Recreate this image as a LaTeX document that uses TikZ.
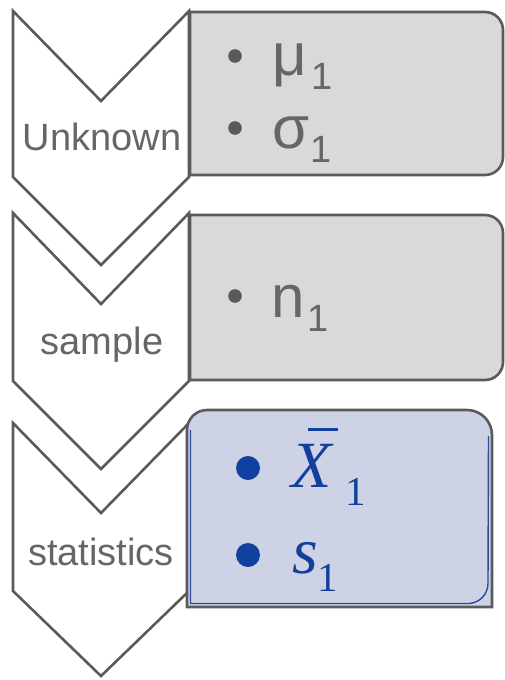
\documentclass[tikz,border=0pt]{standalone}
\usepackage{fontspec}
\setmainfont{Liberation Sans}
\newfontfamily\cambriaish{Liberation Serif}
\definecolor{edgegray}{HTML}{5A5A5A}
\definecolor{boxgray}{HTML}{D9D9D9}
\definecolor{txtgray}{HTML}{666666}
\definecolor{boxblue}{HTML}{CDD3E4}
\definecolor{inkblue}{HTML}{12409E}
\definecolor{lineblue}{HTML}{2A4C9E}
\tikzset{
  chev/.style={draw=edgegray, fill=white, line width=2.6pt, line join=miter},
  graybox/.style={draw=edgegray, fill=boxgray, line width=2.6pt},
  bluebox/.style={draw=edgegray, fill=boxblue, line width=2.6pt},
  chevlabel/.style={text=txtgray, inner sep=0pt, anchor=base, font=\fontsize{38}{38}\selectfont},
  grayitem/.style={text=txtgray, inner sep=0pt, anchor=base west, font=\fontsize{60}{60}\selectfont},
  blueitem/.style={text=inkblue, inner sep=0pt, anchor=base west, font=\cambriaish\fontsize{66}{66}\selectfont},
}
\newcommand{\grsub}[1]{{\fontsize{38}{38}\selectfont\raisebox{-14pt}{#1}}}
\newcommand{\blsub}[1]{{\fontsize{41}{41}\selectfont\raisebox{-18pt}{#1}}}
\begin{document}
\begin{tikzpicture}[x=1pt,y=1pt]
\useasboundingbox (0,0) rectangle (504,-680);
% chevrons
\draw[chev] (13,-11) -- (101,-101) -- (189,-11) -- (189,-177) -- (101,-265) -- (13,-177) -- cycle;
\draw[chev] (13,-213) -- (101,-304) -- (189,-213) -- (189,-381) -- (101,-469) -- (13,-381) -- cycle;
\draw[chev] (13,-423) -- (101,-513) -- (189,-423) -- (189,-591) -- (101,-676) -- (13,-591) -- cycle;
% boxes
\draw[graybox] (190,-12) -- (485,-12) arc[start angle=90,end angle=0,radius=18] -- (503,-157) arc[start angle=0,end angle=-90,radius=18] -- (190,-175) -- cycle;
\draw[graybox] (190,-215) -- (485,-215) arc[start angle=90,end angle=0,radius=18] -- (503,-362) arc[start angle=0,end angle=-90,radius=18] -- (190,-380) -- cycle;
\draw[bluebox] (187,-607) -- (187,-430) arc[start angle=180,end angle=90,radius=20] -- (467,-410) arc[start angle=90,end angle=0,radius=25] -- (492,-607) -- cycle;
\draw[lineblue, line width=1.4pt] (190.5,-430) -- (190.5,-603.5) -- (468,-603.5) arc[start angle=-90,end angle=0,radius=20] -- (488.5,-436);
% chevron labels
\node[chevlabel] (unknown) at (102,-150) {Unknown};
\node[chevlabel] (sample) at (102,-354) {sample};
\node[chevlabel] (statistics) at (101,-565) {statistics};
% bullets
\fill[edgegray] (235,-56) circle (6.8);
\fill[edgegray] (235,-128) circle (6.8);
\fill[edgegray] (235,-296) circle (6.8);
\fill[inkblue] (248,-468) circle (12);
\fill[inkblue] (248,-555) circle (12);
% items
\node[grayitem] (mu) at (272,-75) {μ\hspace{5pt}\grsub{1}};
\node[grayitem] (sigma) at (272,-148) {σ\hspace{1pt}\grsub{1}};
\node[grayitem] (n) at (271,-317) {n\hspace{3pt}\grsub{1}};
\node[blueitem] (xbar) at (291,-487) {\rlap{\hspace{17pt}\rule[56pt]{30pt}{3.2pt}}\itshape X\hspace{14pt}\upshape\blsub{1}};
\node[blueitem] (s) at (292,-573) {\itshape s\upshape\blsub{1}};
\end{tikzpicture}
\end{document}
